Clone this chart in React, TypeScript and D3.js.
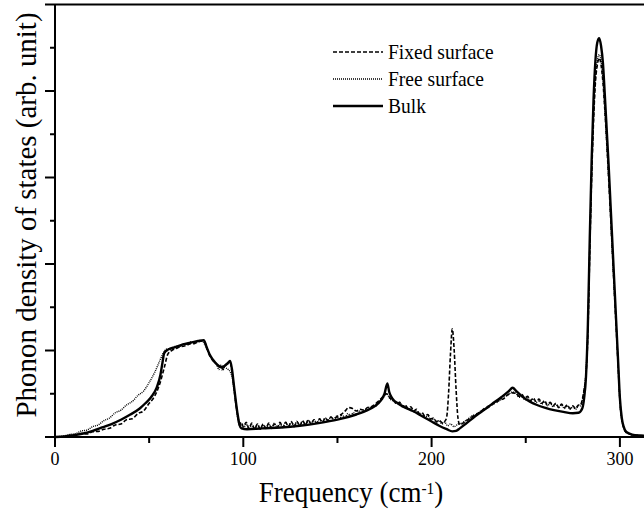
import React from "react";
import * as d3 from "d3";

type P = [number, number];

const bulk: P[] = [
  [0, 0], [5, 0.005], [10, 0.02], [15, 0.04], [20, 0.07], [25, 0.11], [30, 0.15], [35, 0.2], [40, 0.26], [45, 0.33],
  [48, 0.39], [51, 0.46], [54, 0.57], [56, 0.72], [57, 0.85], [58, 0.97], [60, 1.01], [64, 1.04], [68, 1.07], [72, 1.09],
  [76, 1.11], [79, 1.12], [80.5, 1.04], [82, 0.96], [84, 0.89], [86, 0.84], [88, 0.81], [90, 0.82], [92, 0.86], [93, 0.88],
  [94, 0.78], [95, 0.6], [96, 0.42], [97, 0.26], [98, 0.14], [99, 0.1], [102, 0.09], [110, 0.1], [120, 0.11], [130, 0.13],
  [140, 0.16], [150, 0.2], [160, 0.26], [166, 0.31], [170, 0.36], [173, 0.42], [175, 0.5], [176.5, 0.62], [177.5, 0.52],
  [179, 0.45], [182, 0.39], [186, 0.34], [190, 0.3], [195, 0.24], [200, 0.18], [204, 0.13], [208, 0.09], [211, 0.065],
  [213, 0.07], [215, 0.1], [218, 0.15], [222, 0.22], [227, 0.3], [232, 0.38], [237, 0.46], [241, 0.53], [243, 0.57],
  [245, 0.53], [248, 0.47], [252, 0.41], [256, 0.37], [260, 0.34], [265, 0.31], [270, 0.29], [275, 0.275], [278, 0.28],
  [280, 0.33], [281, 0.45], [282, 0.7], [283, 1.3], [284, 2.3], [285, 3.2], [286, 3.9], [287, 4.35], [288, 4.56],
  [289, 4.61], [290, 4.52], [291, 4.32], [292, 3.95], [293, 3.55], [294, 3.15], [295, 2.7], [296, 2.25], [297, 1.8],
  [298, 1.35], [299, 0.9], [300, 0.45], [301, 0.22], [302, 0.12], [303, 0.07], [305, 0.04], [308, 0.02], [320, 0.01],
];

const freeSurface: P[] = [
  [0, 0], [4, 0.01], [8, 0.03], [11, 0.04], [14, 0.07], [17, 0.08], [20, 0.12], [23, 0.14], [26, 0.19], [29, 0.22],
  [32, 0.28], [35, 0.31], [38, 0.37], [41, 0.41], [44, 0.48], [47, 0.53], [50, 0.63], [53, 0.75], [56, 0.9], [58, 0.99],
  [60, 1.02], [62, 1.01], [64, 1.05], [66, 1.04], [68, 1.08], [70, 1.07], [72, 1.1], [74, 1.09], [76, 1.11], [78, 1.11],
  [80, 1.05], [82, 0.95], [84, 0.88], [86, 0.83], [87, 0.78], [88, 0.81], [89, 0.77], [90, 0.8], [92, 0.78], [94, 0.7],
  [95, 0.55], [96, 0.38], [97, 0.22], [98, 0.13], [99, 0.15], [100, 0.1], [101.5, 0.15], [103, 0.09], [104.5, 0.14],
  [106, 0.1], [107.5, 0.15], [109, 0.09], [110.5, 0.14], [112, 0.1], [113.5, 0.15], [115, 0.11], [116.5, 0.16],
  [118, 0.11], [119.5, 0.15], [121, 0.12], [122.5, 0.17], [124, 0.12], [125.5, 0.17], [127, 0.13], [128.5, 0.18],
  [130, 0.13], [131.5, 0.18], [133, 0.14], [134.5, 0.19], [136, 0.15], [137.5, 0.2], [139, 0.16], [140.5, 0.21],
  [142, 0.17], [143.5, 0.22], [145, 0.19], [146.5, 0.23], [148, 0.2], [149.5, 0.24], [151, 0.21], [152.5, 0.25],
  [154, 0.23], [155.5, 0.27], [157, 0.25], [158.5, 0.28], [160, 0.26], [161.5, 0.3], [163, 0.28], [164.5, 0.32],
  [166, 0.31], [168, 0.35], [170, 0.35], [172, 0.41], [174, 0.44], [176, 0.5], [178, 0.44], [180, 0.41], [181.5, 0.39],
  [183, 0.4], [184.5, 0.36], [186, 0.36], [187.5, 0.32], [189, 0.33], [190.5, 0.29], [192, 0.3], [193.5, 0.26],
  [195, 0.27], [196.5, 0.23], [198, 0.24], [199.5, 0.2], [201, 0.21], [202.5, 0.17], [204, 0.19], [205.5, 0.15],
  [207, 0.17], [208.5, 0.13], [210, 0.15], [212, 0.12], [214, 0.15], [216, 0.16], [218, 0.19], [220, 0.22], [222, 0.25],
  [224, 0.26], [226, 0.3], [228, 0.31], [230, 0.36], [232, 0.37], [234, 0.41], [236, 0.42], [238, 0.47], [240, 0.48],
  [243, 0.52], [245, 0.5], [246.5, 0.46], [248, 0.47], [249.5, 0.43], [251, 0.45], [252.5, 0.41], [254, 0.44],
  [255.5, 0.4], [257, 0.42], [258.5, 0.38], [260, 0.41], [261.5, 0.36], [263, 0.39], [264.5, 0.35], [266, 0.38],
  [267.5, 0.34], [269, 0.37], [270.5, 0.33], [272, 0.36], [273.5, 0.32], [275, 0.35], [276.5, 0.32], [278, 0.36],
  [279, 0.36], [280, 0.42], [281, 0.55], [282, 0.75], [283, 1.25], [284, 2.2], [285, 3.05], [286, 3.7], [287, 4.15],
  [288, 4.35], [289, 4.42], [290, 4.35], [291, 4.15], [292, 3.8], [293, 3.42], [294, 3.02], [295, 2.6], [296, 2.15],
  [297, 1.72], [298, 1.3], [299, 0.86], [300, 0.42], [301, 0.2], [302, 0.11], [303, 0.06], [305, 0.035], [308, 0.02],
  [320, 0.01],
];

const fixedSurface: P[] = [
  [0, 0], [5, 0.005], [8, 0.02], [11, 0.015], [14, 0.04], [17, 0.035], [20, 0.06], [23, 0.065], [26, 0.09], [29, 0.1],
  [32, 0.14], [35, 0.15], [38, 0.2], [41, 0.21], [44, 0.27], [47, 0.3], [50, 0.39], [52, 0.44], [54, 0.52], [56, 0.64],
  [58, 0.8], [60, 0.96], [62, 1.0], [64, 1.02], [66, 1.04], [68, 1.05], [70, 1.06], [72, 1.08], [74, 1.08], [76, 1.1],
  [79, 1.11], [80.5, 1.04], [82, 0.95], [84, 0.88], [86, 0.84], [87, 0.8], [88, 0.83], [89, 0.79], [90, 0.83], [92, 0.85],
  [93, 0.86], [94, 0.75], [95, 0.58], [96, 0.4], [97, 0.25], [98, 0.15], [99, 0.17], [100, 0.12], [101.5, 0.17],
  [103, 0.1], [104.5, 0.16], [106, 0.09], [107.5, 0.15], [109, 0.09], [110.5, 0.15], [112, 0.1], [113.5, 0.16],
  [115, 0.1], [116.5, 0.15], [118, 0.11], [119.5, 0.17], [121, 0.11], [122.5, 0.17], [124, 0.12], [125.5, 0.18],
  [127, 0.12], [128.5, 0.18], [130, 0.13], [131.5, 0.19], [133, 0.14], [134.5, 0.2], [136, 0.15], [137.5, 0.2],
  [139, 0.16], [140.5, 0.21], [142, 0.17], [143.5, 0.22], [145, 0.19], [146.5, 0.23], [148, 0.21], [150, 0.24],
  [152, 0.26], [154, 0.3], [156, 0.34], [158, 0.33], [160, 0.3], [162, 0.32], [164, 0.31], [166, 0.34], [168, 0.35],
  [170, 0.38], [172, 0.42], [174, 0.46], [176, 0.5], [178, 0.45], [180, 0.42], [181.5, 0.38], [183, 0.4], [184.5, 0.35],
  [186, 0.37], [187.5, 0.33], [189, 0.35], [190.5, 0.3], [192, 0.32], [193.5, 0.27], [195, 0.28], [196.5, 0.24],
  [198, 0.26], [199.5, 0.21], [201, 0.22], [202.5, 0.18], [204, 0.19], [206, 0.16], [207, 0.18], [208, 0.23], [209, 0.5],
  [210, 0.95], [211, 1.25], [212, 1.0], [213, 0.55], [214, 0.22], [215, 0.14], [216, 0.15], [218, 0.18], [220, 0.21],
  [222, 0.24], [224, 0.27], [226, 0.29], [228, 0.33], [230, 0.34], [232, 0.38], [234, 0.39], [236, 0.43], [238, 0.44],
  [240, 0.48], [243, 0.51], [245, 0.5], [246.5, 0.47], [248, 0.49], [249.5, 0.45], [251, 0.47], [252.5, 0.42],
  [254, 0.45], [255.5, 0.41], [257, 0.44], [258.5, 0.39], [260, 0.42], [261.5, 0.37], [263, 0.4], [264.5, 0.36],
  [266, 0.39], [267.5, 0.34], [269, 0.38], [270.5, 0.34], [272, 0.37], [273.5, 0.33], [275, 0.36], [276.5, 0.33],
  [278, 0.37], [279, 0.37], [280, 0.43], [281, 0.55], [282, 0.72], [283, 1.2], [284, 2.15], [285, 3.0], [286, 3.65],
  [287, 4.1], [288, 4.3], [289, 4.38], [290, 4.3], [291, 4.1], [292, 3.78], [293, 3.4], [294, 3.0], [295, 2.58],
  [296, 2.14], [297, 1.7], [298, 1.28], [299, 0.85], [300, 0.42], [301, 0.2], [302, 0.11], [303, 0.06], [305, 0.035],
  [308, 0.02], [320, 0.01],
];

const xTickValues = [0, 100, 200, 300];
const xMinorTicks = [50, 150, 250];
const yMajorTicks = [0, 1, 2, 3, 4, 5];
const yMinorTicks = [0.5, 1.5, 2.5, 3.5, 4.5];

const legendItems = [
  { label: "Fixed surface", dash: "4,2", width: 1.6 },
  { label: "Free surface", dash: "1,1", width: 1.4 },
  { label: "Bulk", dash: "", width: 2.4 },
];

const W = 644;
const H = 512;
const FONT = "Liberation Serif, Times New Roman, Tinos, serif";

export default function App() {
  const x = d3.scaleLinear().domain([0, 320]).range([55, 55 + 320 * 1.883]);
  const y = d3.scaleLinear().domain([0, 5]).range([437, 4.5]);
  const smooth = d3
    .line<P>()
    .x((d) => x(d[0]))
    .y((d) => y(d[1]))
    .curve(d3.curveMonotoneX);

  const x0 = x(0);
  const y0 = y(0);
  const xEnd = x(320);

  return (
    <svg
      width={W}
      height={H}
      style={{ position: "absolute", left: 0, top: 0, background: "#fff", fontFamily: FONT }}
    >
      <rect x={0} y={0} width={W} height={H} fill="#fff" />
      {/* curves */}
      <path d={smooth(freeSurface) || ""} fill="none" stroke="#000" strokeWidth={1.4} strokeDasharray="1,1" />
      <path d={smooth(fixedSurface) || ""} fill="none" stroke="#000" strokeWidth={1.6} strokeDasharray="4,2" />
      <path d={smooth(bulk) || ""} fill="none" stroke="#000" strokeWidth={2.4} />

      {/* frame */}
      <line x1={x0} x2={x0} y1={y(5)} y2={y0} stroke="#000" strokeWidth={2} />
      <line x1={x0} x2={xEnd} y1={y(5)} y2={y(5)} stroke="#000" strokeWidth={2} />
      <line x1={x0} x2={xEnd} y1={y0} y2={y0} stroke="#000" strokeWidth={2} />
      <line x1={xEnd} x2={xEnd} y1={y(5)} y2={y0} stroke="#000" strokeWidth={2} />

      {/* y ticks */}
      {yMajorTicks.map((t) => (
        <line key={"ym" + t} x1={x0 - 10} x2={x0} y1={y(t)} y2={y(t)} stroke="#000" strokeWidth={2} />
      ))}
      {yMinorTicks.map((t) => (
        <line key={"yn" + t} x1={x0 - 5} x2={x0} y1={y(t)} y2={y(t)} stroke="#000" strokeWidth={2} />
      ))}
      {/* x ticks */}
      {xTickValues.map((t) => (
        <g key={"xm" + t}>
          <line x1={x(t)} x2={x(t)} y1={y0} y2={y0 + 10} stroke="#000" strokeWidth={2} />
          <text x={x(t)} y={465} textAnchor="middle" fontSize={18}>
            {t}
          </text>
        </g>
      ))}
      {xMinorTicks.map((t) => (
        <line key={"xn" + t} x1={x(t)} x2={x(t)} y1={y0} y2={y0 + 6} stroke="#000" strokeWidth={2} />
      ))}

      {/* axis labels */}
      <text transform="translate(351,502) scale(0.9,1)" textAnchor="middle" fontSize={30}>
        Frequency (cm
        <tspan baselineShift="super" fontSize={17}>-1</tspan>
        <tspan>)</tspan>
      </text>
      <text transform="translate(36,215) rotate(-90) scale(0.965,1)" textAnchor="middle" fontSize={30}>
        Phonon density of states (arb. unit)
      </text>

      {/* legend */}
      {legendItems.map((it, i) => {
        const cy = 52 + i * 27;
        return (
          <g key={it.label}>
            <line
              x1={333}
              x2={383}
              y1={cy}
              y2={cy}
              stroke="#000"
              strokeWidth={it.width}
              strokeDasharray={it.dash || undefined}
            />
            <text transform={`translate(388,${cy + 7}) scale(0.93,1)`} fontSize={21}>
              {it.label}
            </text>
          </g>
        );
      })}
    </svg>
  );
}
